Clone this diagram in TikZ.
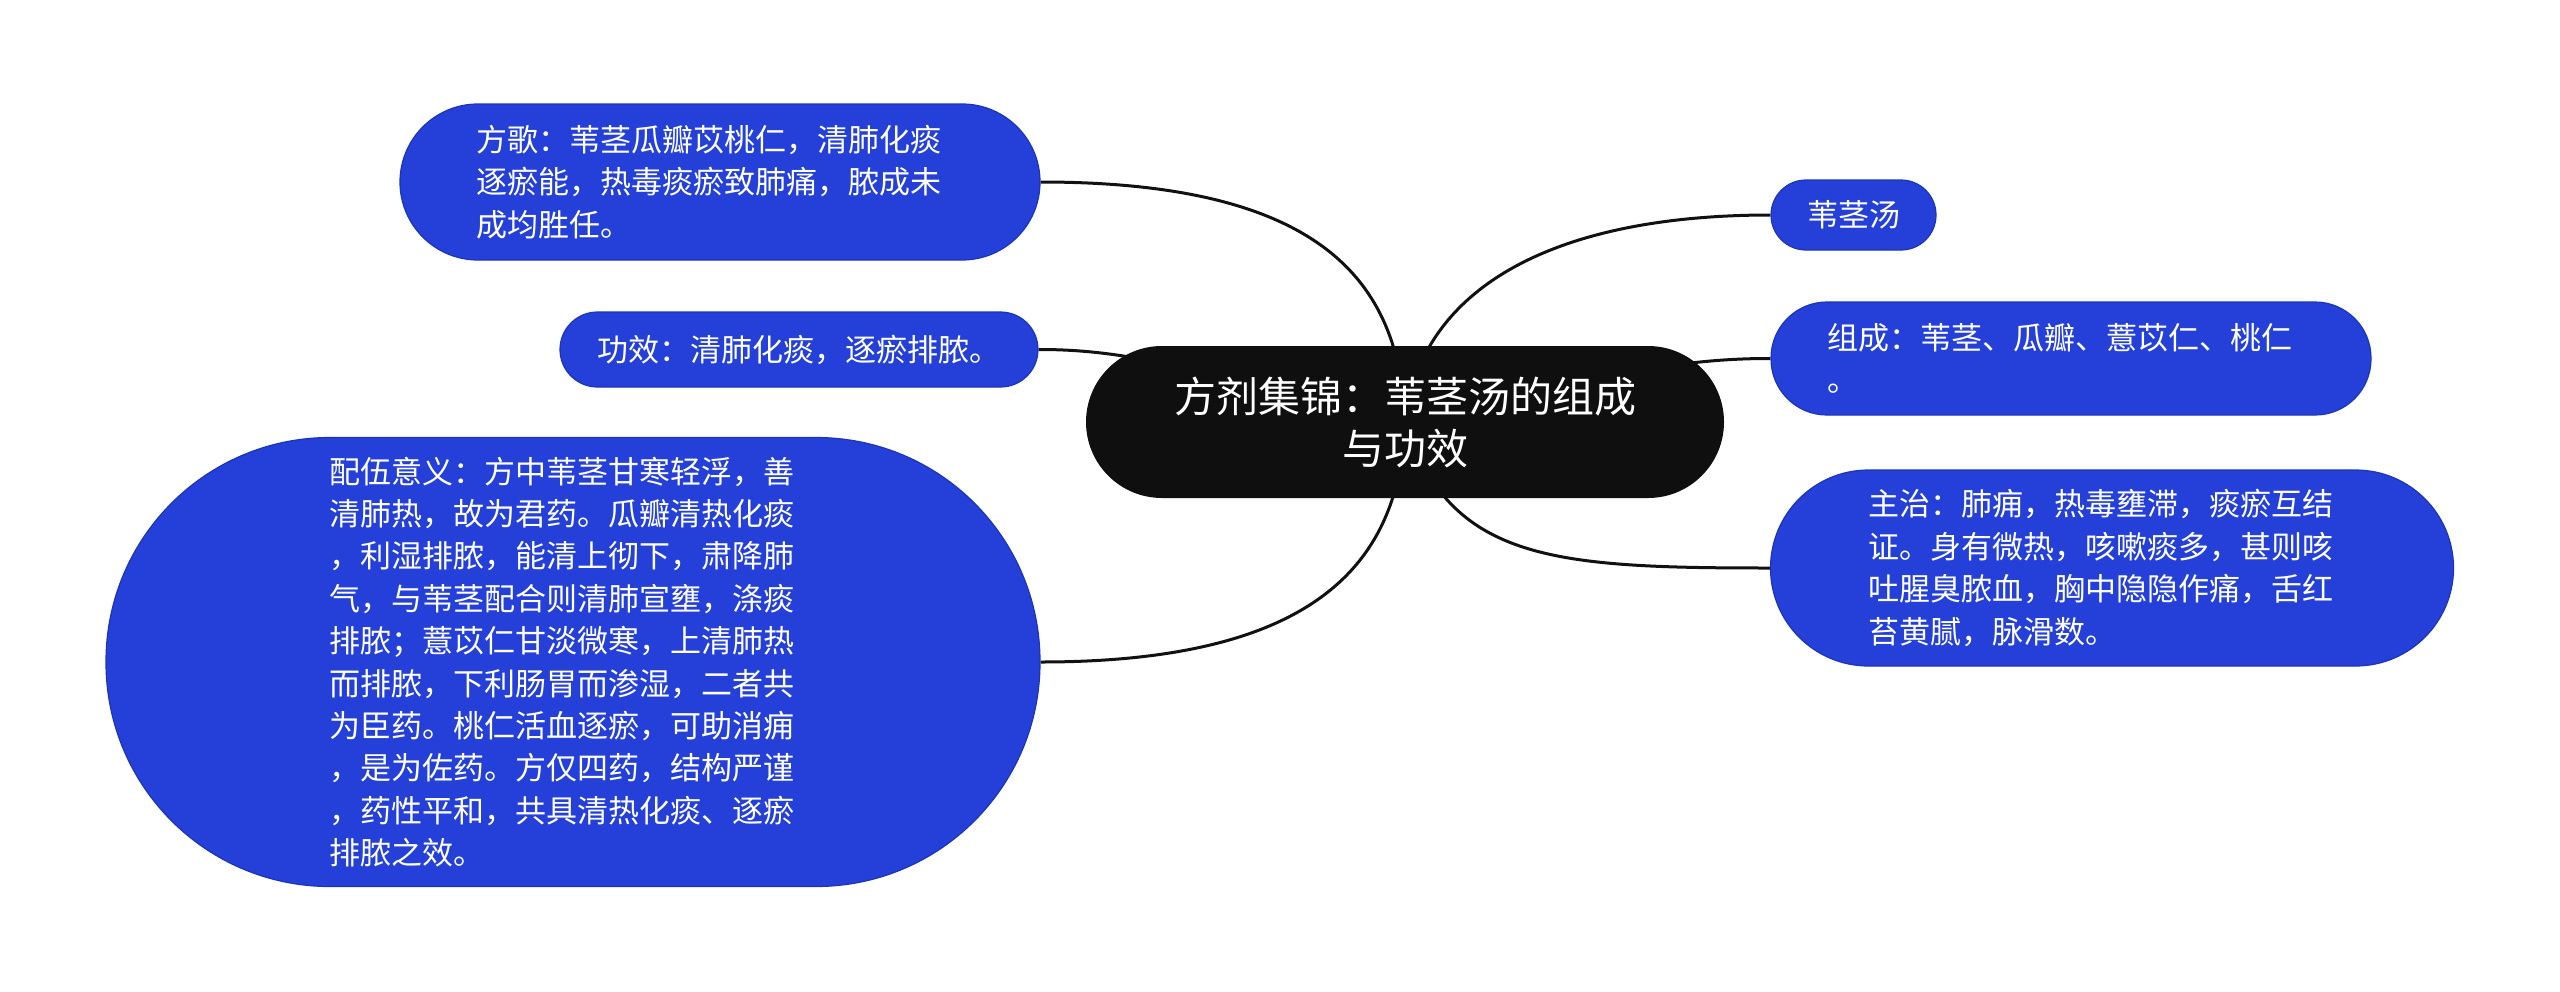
\documentclass[tikz,border=0pt]{standalone}
\usepackage{fontspec}
\newfontfamily\cjk{Noto Sans CJK SC}
\usetikzlibrary{backgrounds}
\definecolor{nodeblue}{HTML}{2440D9}
\definecolor{nodeedge}{HTML}{1C34B8}
\definecolor{rootblack}{HTML}{0F0F0F}
\definecolor{linkcol}{HTML}{111111}
\tikzset{
  leaf/.style={draw=nodeedge, line width=0.6pt, fill=nodeblue, text=white, inner sep=0pt,
    align=left, font={\cjk\fontsize{15.5}{21.2}\selectfont}},
  longleaf/.style={leaf, text width=243.5pt},
  rootbox/.style={fill=rootblack, text=white, inner sep=0pt, align=center,
    font={\cjk\fontsize{21}{26}\selectfont}},
  link/.style={draw=linkcol, line width=1.5pt}
}
\begin{document}
\begin{tikzpicture}[x=0.5pt, y=-0.5pt]
\useasboundingbox (0,0) rectangle (2560,991);
\node[rootbox, minimum width=319pt, minimum height=76pt, rounded corners=38pt] (c) at (1405,422)
  {方剂集锦：苇茎汤的组成\\与功效};
\node[longleaf, minimum width=320pt, minimum height=78pt, rounded corners=39pt] (fg) at (720,182)
  {方歌：苇茎瓜瓣苡桃仁，清肺化痰\\逐瘀能，热毒痰瘀致肺痛，脓成未\\成均胜任。};
\node[leaf, minimum width=239pt, minimum height=37.5pt, rounded corners=18.75pt] (gx) at (799,349.5)
  {功效：清肺化痰，逐瘀排脓。};
\node[longleaf, minimum width=467pt, minimum height=224.5pt, rounded corners=112pt] (pw) at (573,662)
  {配伍意义：方中苇茎甘寒轻浮，善\\清肺热，故为君药。瓜瓣清热化痰\\，利湿排脓，能清上彻下，肃降肺\\气，与苇茎配合则清肺宣壅，涤痰\\排脓；薏苡仁甘淡微寒，上清肺热\\而排脓，下利肠胃而渗湿，二者共\\为臣药。桃仁活血逐瘀，可助消痈\\，是为佐药。方仅四药，结构严谨\\，药性平和，共具清热化痰、逐瘀\\排脓之效。};
\node[leaf, minimum width=82.5pt, minimum height=35pt, rounded corners=17.5pt] (wj) at (1853.5,215)
  {苇茎汤};
\node[longleaf, minimum width=300pt, minimum height=56.5pt, rounded corners=28pt] (zc) at (2071,358.5)
  {组成：苇茎、瓜瓣、薏苡仁、桃仁\\。};
\node[longleaf, minimum width=341.5pt, minimum height=98pt, rounded corners=49pt] (zz) at (2112,568)
  {主治：肺痈，热毒壅滞，痰瘀互结\\证。身有微热，咳嗽痰多，甚则咳\\吐腥臭脓血，胸中隐隐作痛，舌红\\苔黄腻，脉滑数。};
\begin{scope}[on background layer]
\draw[link] (fg.east) .. controls (1320,182) and (1400,280) .. (c.center);
\draw[link] (gx.east) .. controls (1200,349) and (1300,422) .. (c.center);
\draw[link] (pw.east) .. controls (1320,662) and (1400,560) .. (c.center);
\draw[link] (wj.west) .. controls (1550,215) and (1420,290) .. (c.center);
\draw[link] (zc.west) .. controls (1600,358) and (1500,422) .. (c.center);
\draw[link] (zz.west) .. controls (1550,568) and (1450,560) .. (c.center);
\end{scope}
\end{tikzpicture}
\end{document}
